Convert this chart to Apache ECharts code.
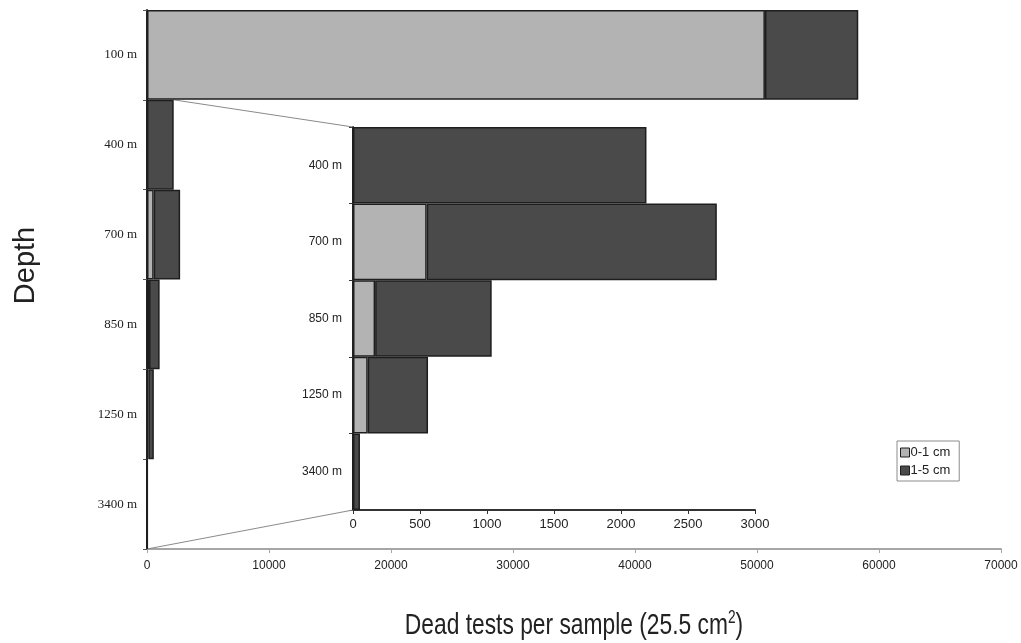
<!DOCTYPE html>
<html>
<head>
<meta charset="utf-8">
<script src="https://cdn.jsdelivr.net/npm/echarts@6/dist/echarts.min.js"></script>
<style>
  html, body { margin: 0; padding: 0; background: #fff; }
  #chart { width: 1021px; height: 643px; }
</style>
</head>
<body>
<div id="chart"></div>
<script>
// Sampling depths, top to bottom
const depths = ['100 m', '400 m', '700 m', '850 m', '1250 m', '3400 m'];
// Dead tests per sample, by size fraction
const fine = [50650, 0, 550, 165, 110, 0];      // 0-1 cm
const coarse = [7650, 2190, 2165, 870, 450, 52]; // 1-5 cm
// Tick labels
const mainTicks = [0, 10000, 20000, 30000, 40000, 50000, 60000, 70000];
const insetTicks = [0, 500, 1000, 1500, 2000, 2500, 3000];

// Close-up panel shows every depth below 100 m
const insetDepths = depths.slice(1);
const insetFine = fine.slice(1);
const insetCoarse = coarse.slice(1);

const LIGHT = '#b3b3b3';
const DARK = '#4a4a4a';
const EDGE = '#1e1e1e';

const chart = echarts.init(document.getElementById('chart'), null, { renderer: 'canvas' });

function barSeries(data, color, idx, legendName) {
  return {
    name: legendName,
    type: 'bar',
    stack: 'total' + idx,
    xAxisIndex: idx,
    yAxisIndex: idx,
    data: data,
    barWidth: '100%',
    barCategoryGap: 0,
    z: 2 + idx * 5,
    itemStyle: { color: color, borderColor: EDGE, borderWidth: 1.5 },
    emphasis: { disabled: true }
  };
}

const option = {
  animation: false,
  backgroundColor: '#ffffff',
  grid: [
    { left: 147, right: 20, top: 10, bottom: 94, outerBoundsMode: 'none', containLabel: false },
    { left: 353, right: 266, top: 127, bottom: 133, outerBoundsMode: 'none', containLabel: false }
  ],
  legend: {
    orient: 'vertical',
    left: 897,
    top: 441,
    padding: [5, 9, 4, 3],
    itemGap: 5,
    itemWidth: 9,
    itemHeight: 9,
    icon: 'rect',
    itemStyle: { borderColor: EDGE, borderWidth: 1 },
    backgroundColor: '#fff',
    borderColor: '#8c8c8c',
    borderWidth: 1,
    textStyle: { fontFamily: 'Liberation Sans', fontSize: 13, color: '#222', padding: [0, 0, 0, -4] },
    data: ['0-1 cm', '1-5 cm'],
    selectedMode: false
  },
  xAxis: [
    {
      type: 'value', gridIndex: 0, min: 0, max: 70000, interval: 10000,
      splitLine: { show: false },
      axisLine: { show: true, lineStyle: { color: '#a6a6a6', width: 2 } },
      axisTick: { show: true, length: 4, lineStyle: { color: '#a6a6a6' } },
      axisLabel: {
        fontFamily: 'Liberation Sans', fontSize: 12, color: '#222', margin: 11,
        formatter: v => (mainTicks.indexOf(v) >= 0 ? String(v) : '')
      }
    },
    {
      type: 'value', gridIndex: 1, min: 0, max: 3000, interval: 500,
      splitLine: { show: false },
      axisLine: { show: true, lineStyle: { color: '#333', width: 2 } },
      axisTick: { show: true, length: 4, lineStyle: { color: '#333' } },
      axisLabel: {
        fontFamily: 'Liberation Sans', fontSize: 13, color: '#222', margin: 8,
        formatter: v => (insetTicks.indexOf(v) >= 0 ? String(v) : '')
      }
    }
  ],
  yAxis: [
    {
      type: 'category', gridIndex: 0, data: depths, inverse: true,
      axisLine: { show: true, lineStyle: { color: '#222', width: 2 } },
      axisTick: { show: true, length: 4, lineStyle: { color: '#555' } },
      axisLabel: { fontFamily: 'Liberation Serif', fontSize: 13, color: '#222', margin: 10 },
      name: 'Depth',
      nameLocation: 'middle',
      nameGap: 107,
      nameRotate: 90,
      nameTextStyle: { fontFamily: 'Liberation Sans', fontSize: 29, color: '#222', padding: [0, 0, 0, 28] }
    },
    {
      type: 'category', gridIndex: 1, data: insetDepths, inverse: true,
      axisLine: { show: true, lineStyle: { color: '#222', width: 2 } },
      axisTick: { show: true, length: 4, lineStyle: { color: '#333' } },
      axisLabel: { fontFamily: 'Liberation Sans', fontSize: 12, color: '#222', margin: 11 }
    }
  ],
  series: [
    barSeries(fine, LIGHT, 0, '0-1 cm'),
    barSeries(coarse, DARK, 0, '1-5 cm'),
    barSeries(insetFine, LIGHT, 1, '0-1 cm'),
    barSeries(insetCoarse, DARK, 1, '1-5 cm')
  ]
};

chart.setOption(option);

// Guide lines linking the main panel to the close-up panel
function bandEdges(yAxisIndex, cats, cat) {
  const i = cats.indexOf(cat);
  const c = chart.convertToPixel({ yAxisIndex: yAxisIndex }, cat);
  const other = chart.convertToPixel({ yAxisIndex: yAxisIndex }, cats[i === cats.length - 1 ? i - 1 : i + 1]);
  const half = Math.abs(other - c) / 2;
  return { top: c - half, bottom: c + half };
}

const mainRow400 = bandEdges(0, depths, '400 m');
const mainRow3400 = bandEdges(0, depths, '3400 m');
const insetRow400 = bandEdges(1, insetDepths, '400 m');
const insetRow3400 = bandEdges(1, insetDepths, '3400 m');

const x400 = chart.convertToPixel({ xAxisIndex: 0 }, fine[1] + coarse[1]);
const xMain0 = chart.convertToPixel({ xAxisIndex: 0 }, 0);
const xMainMid = chart.convertToPixel({ xAxisIndex: 0 }, 35000);
const xInset0 = chart.convertToPixel({ xAxisIndex: 1 }, 0);

chart.setOption({
  graphic: [
    {
      type: 'line', z: 1, silent: true,
      shape: { x1: x400, y1: mainRow400.top, x2: xInset0, y2: insetRow400.top },
      style: { stroke: '#8a8a8a', lineWidth: 1 }
    },
    {
      type: 'line', z: 1, silent: true,
      shape: { x1: xMain0, y1: mainRow3400.bottom, x2: xInset0, y2: insetRow3400.bottom },
      style: { stroke: '#8a8a8a', lineWidth: 1 }
    },
    {
      // x-axis title, set in a condensed width
      type: 'text', silent: true,
      x: xMainMid, y: mainRow3400.bottom + 77,
      scaleX: 0.76,
      style: {
        text: 'Dead tests per sample (25.5 cm{sup|2})',
        fontFamily: 'Liberation Sans', fontSize: 30, fill: '#222',
        align: 'center', verticalAlign: 'middle',
        rich: { sup: { fontFamily: 'Liberation Sans', fontSize: 18, fill: '#222', padding: [0, 0, 16, 0] } }
      }
    }
  ]
});
</script>
</body>
</html>
